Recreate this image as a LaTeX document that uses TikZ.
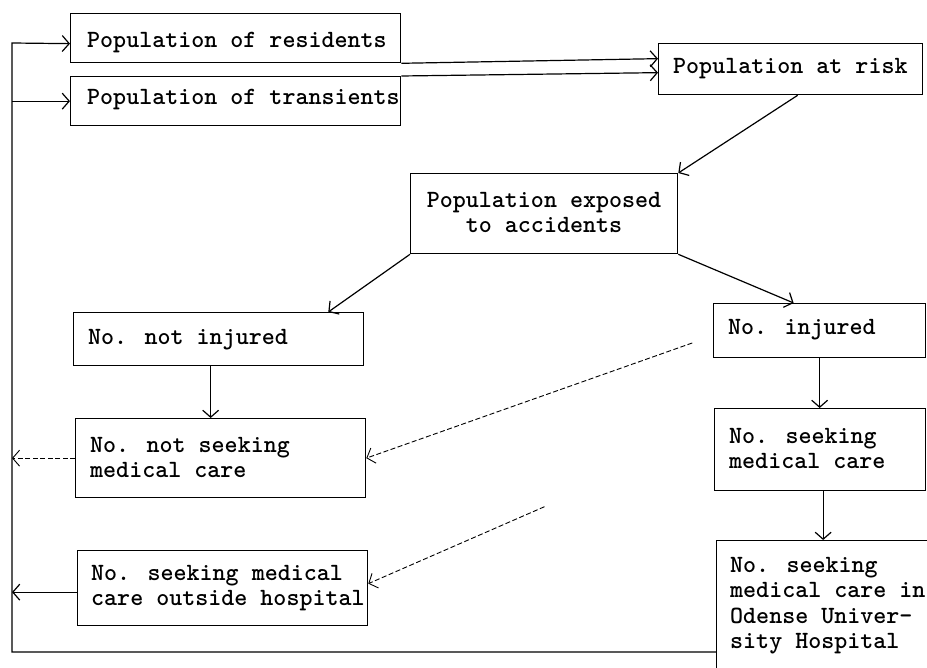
\documentclass[tikz,border=0pt]{standalone}
\usetikzlibrary{arrows.meta,calc}
\begin{document}
\begin{tikzpicture}[x=1pt,y=-1pt,
  box/.style={draw, line width=1.3pt, inner sep=0pt, anchor=north west},
  txt/.style={font=\fontsize{24.8}{25.5}\selectfont\ttfamily\bfseries, inner sep=0pt, align=left, anchor=west},
  arr/.style={-{Straight Barb[length=7pt,width=16pt]}, line width=1.2pt},
  dsh/.style={dash pattern=on 5pt off 2.5pt, line width=0.9pt}]
\useasboundingbox (0,0) rectangle (927,668);
\clip (0,0) rectangle (927,668);
\fill[white] (0,0) rectangle (927,668);
% boxes
\node[box, minimum width=330pt, minimum height=49pt] (res) at (70,13) {};
\node[txt] (tres) at (87,43) {Population of residents};
\node[box, minimum width=330pt, minimum height=49pt] (tra) at (70,76) {};
\node[txt] (ttra) at (87,100) {Population of transients};
\node[box, minimum width=264pt, minimum height=51pt] (risk) at (658,43) {};
\node[txt] (trisk) at (673,69) {Population at risk};
\node[box, minimum width=267pt, minimum height=80pt] (exp) at (410,173) {};
\node[txt, anchor=center, align=center] (texp) at (544,212.5) {Population exposed\\to accidents};
\node[box, minimum width=290pt, minimum height=53pt] (notinj) at (73,312) {};
\node[txt] (tnotinj) at (88,340) {No. not injured};
\node[box, minimum width=212pt, minimum height=54pt] (inj) at (713,303) {};
\node[txt] (tinj) at (728,330) {No. injured};
\node[box, minimum width=290pt, minimum height=79pt] (notseek) at (75,418) {};
\node[txt] (tnotseek) at (90,457.5) {No. not seeking\\medical care};
\node[box, minimum width=211pt, minimum height=82pt] (seek) at (714,408) {};
\node[txt] (tseek) at (729,448.5) {No. seeking\\medical care};
\node[box, minimum width=290pt, minimum height=75pt] (out) at (77,550) {};
\node[txt] (tout) at (91,588) {No. seeking medical\\care outside hospital};
\node[box, minimum width=250pt, minimum height=200pt] (ode) at (716,540) {};
\node[txt, anchor=north west] (tode) at (730,557) {No. seeking\\medical care in\\Odense Univer-\\sity Hospital};
% connectors
\draw[arr] (res.south east) -- ([yshift=10.5pt]risk.west);
\draw[arr] (tra.north east) -- ([yshift=-3.5pt]risk.west);
\draw[arr] ([xshift=7pt]risk.south) -- (exp.north east);
\draw[arr] (exp.south west) -- ([xshift=-36pt]notinj.north east);
\draw[arr] (exp.south east) -- ([xshift=-26pt]inj.north);
\coordinate (a1) at ([xshift=-8pt]notinj.south);
\draw[arr] (a1) -- (a1 |- notseek.north);
\draw[arr] (inj.south) -- (inj.south |- seek.north);
\coordinate (a2) at ([xshift=3pt]seek.south);
\draw[arr] (a2) -- (a2 |- ode.north);
\draw[arr, dsh, shorten <=22pt] ([yshift=-5pt]inj.west) -- (notseek.east);
\draw[arr, dsh, shorten <=185pt] ([yshift=17pt]seek.west) -- ([yshift=4.5pt]out.east);
% feedback loop
\coordinate (corner) at (12,43);
\draw[arr] ([yshift=-112pt]ode.north west) -| (corner) -- ([yshift=-5.5pt]res.west);
\draw[arr] (corner |- tra.west) -- (tra.west);
\draw[arr, dsh] (notseek.west) -- (corner |- notseek.west);
\coordinate (a3) at ([yshift=-4pt]out.west);
\draw[arr] (a3) -- (corner |- a3);
\end{tikzpicture}
\end{document}
